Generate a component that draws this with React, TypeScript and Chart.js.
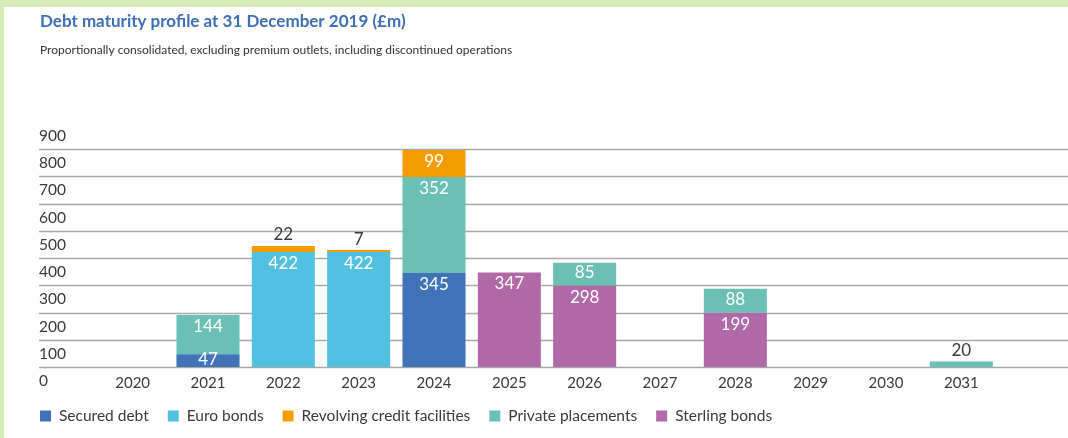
import React, { useEffect, useRef } from "react";
import { Chart, registerables } from "chart.js";

Chart.register(...registerables);

// ---- data ----
const years = ["2020", "2021", "2022", "2023", "2024", "2025", "2026", "2027", "2028", "2029", "2030", "2031"];
const securedDebt = [null, 47, null, null, 345, null, null, null, null, null, null, null];
const euroBonds = [null, null, 422, 422, null, null, null, null, null, null, null, null];
const sterlingBonds = [null, null, null, null, null, 347, 298, null, 199, null, null, null];
const privatePlacements = [null, 144, null, null, 352, null, 85, null, 88, null, null, 20];
const revolvingCredit = [null, null, 22, 7, 99, null, null, null, null, null, null, null];
const yTickValues = [0, 100, 200, 300, 400, 500, 600, 700, 800, 900];
const gridValues = [0, 100, 200, 300, 400, 500, 600, 700, 800];

const title = "Debt maturity profile at 31 December 2019 (£m)";
const subtitle = "Proportionally consolidated, excluding premium outlets, including discontinued operations";

// ---- styles ----
const FONT = "Lato, 'Noto Sans', sans-serif";
const C_SECURED = "#4173b8";
const C_EURO = "#52c0e0";
const C_REVOLVING = "#f39c00";
const C_PRIVATE = "#6ac0b5";
const C_STERLING = "#b16aa7";
const TEXT = "#3a3a3a";
const GRID = "#a8a8a8";
const FRAME = "#d5ebba";

// legend order (dataset indices)
const legendOrder = [0, 1, 4, 3, 2];

const framePlugin = {
  id: "frame",
  beforeDraw(chart: any) {
    const { ctx, width, height } = chart;
    ctx.save();
    ctx.fillStyle = "#ffffff";
    ctx.fillRect(0, 0, width, height);
    ctx.fillStyle = FRAME;
    ctx.fillRect(0, 0, width, 7);
    ctx.fillRect(0, 0, 4, height);
    // title
    ctx.fillStyle = "#3e6fb6";
    ctx.font = `bold 17px ${FONT}`;
    ctx.textBaseline = "alphabetic";
    ctx.textAlign = "left";
    ctx.fillText(title, 40, 27);
    ctx.fillStyle = "#333333";
    ctx.font = `12px ${FONT}`;
    ctx.textBaseline = "middle";
    ctx.fillText(subtitle, 40, 50);
    ctx.restore();
  },
};

const gridPlugin = {
  id: "fullGrid",
  beforeDatasetsDraw(chart: any) {
    const { ctx, width } = chart;
    const y = chart.scales.y;
    ctx.save();
    ctx.strokeStyle = GRID;
    ctx.lineWidth = 1.7;
    gridValues.forEach((v) => {
      const py = Math.round(y.getPixelForValue(v)) + 0.5;
      ctx.beginPath();
      ctx.moveTo(39, py);
      ctx.lineTo(width, py);
      ctx.stroke();
    });
    ctx.restore();
  },
};

const labelPlugin = {
  id: "barLabels",
  afterDatasetsDraw(chart: any) {
    const { ctx } = chart;
    const datasets = chart.data.datasets;
    ctx.save();
    ctx.font = `17px ${FONT}`;
    ctx.textAlign = "center";
    ctx.textBaseline = "middle";
    datasets.forEach((ds: any, di: number) => {
      const meta = chart.getDatasetMeta(di);
      meta.data.forEach((el: any, i: number) => {
        const v = ds.data[i];
        if (v == null) return;
        let isTop = true;
        for (let k = di + 1; k < datasets.length; k++) {
          if (datasets[k].data[i] != null) isTop = false;
        }
        const top = el.y;
        const h = el.base - el.y;
        if (isTop && v < 40) {
          ctx.fillStyle = TEXT;
          ctx.fillText(String(v), el.x, top - 11);
        } else {
          ctx.fillStyle = "#ffffff";
          ctx.fillText(String(v), el.x, top + Math.min(11.5, h / 2 - 1.5));
        }
      });
    });
    ctx.restore();
  },
};

const legendPlugin = {
  id: "customLegend",
  afterDraw(chart: any) {
    const { ctx } = chart;
    const datasets = chart.data.datasets;
    ctx.save();
    ctx.font = `15.5px ${FONT}`;
    ctx.textBaseline = "middle";
    ctx.textAlign = "left";
    let x = 40;
    const cy = 416;
    legendOrder.forEach((di) => {
      const ds = datasets[di];
      ctx.fillStyle = ds.backgroundColor;
      ctx.fillRect(x, cy - 5.5, 11, 11);
      ctx.fillStyle = TEXT;
      ctx.fillText(ds.label, x + 19, cy);
      x += 19 + ctx.measureText(ds.label).width + 19;
    });
    ctx.restore();
  },
};

export default function App() {
  const ref = useRef<HTMLCanvasElement | null>(null);

  useEffect(() => {
    document.body.style.margin = "0";
    const canvas = ref.current;
    if (!canvas) return;
    const mk = (label: string, data: any[], color: string) => ({
      label,
      data,
      backgroundColor: color,
      borderWidth: 0,
      categoryPercentage: 1,
      barPercentage: 0.837,
      stack: "s",
    });
    const chart = new Chart(canvas, {
      type: "bar",
      data: {
        labels: years,
        datasets: [
          mk("Secured debt", securedDebt, C_SECURED),
          mk("Euro bonds", euroBonds, C_EURO),
          mk("Sterling bonds", sterlingBonds, C_STERLING),
          mk("Private placements", privatePlacements, C_PRIVATE),
          mk("Revolving credit facilities", revolvingCredit, C_REVOLVING),
        ],
      },
      options: {
        responsive: false,
        animation: false,
        layout: { padding: { left: 39, right: 69, top: 121.75, bottom: 39 } },
        plugins: {
          legend: { display: false },
          tooltip: { enabled: false },
          title: { display: false },
        },
        scales: {
          x: {
            stacked: true,
            grid: { display: false, drawTicks: false },
            border: { display: false },
            ticks: { color: TEXT, font: { family: FONT, size: 15 }, padding: 7 },
          },
          y: {
            stacked: true,
            min: 0,
            max: 900,
            afterBuildTicks: (scale: any) => {
              scale.ticks = yTickValues.map((v) => ({ value: v }));
            },
            afterFit: (scale: any) => {
              scale.width = 56;
            },
            grid: { display: false, drawTicks: false },
            border: { display: false },
            ticks: {
              color: TEXT,
              font: { family: FONT, size: 15.5 },
              crossAlign: "far",
              labelOffset: 14,
              padding: 0,
            },
          },
        },
      },
      plugins: [framePlugin, gridPlugin, labelPlugin, legendPlugin],
    });
    return () => chart.destroy();
  }, []);

  return (
    <div style={{ position: "absolute", left: 0, top: 0, width: 1068, height: 438 }}>
      <canvas ref={ref} width={1068} height={438} style={{ width: 1068, height: 438, display: "block" }} />
    </div>
  );
}
